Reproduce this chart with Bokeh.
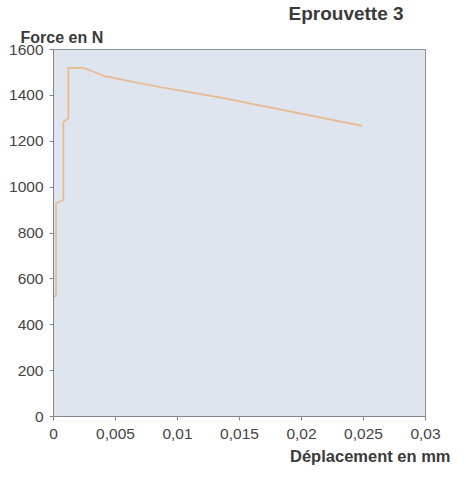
from bokeh.plotting import figure
from bokeh.models import Range1d, FixedTicker, Title
from bokeh.embed import file_html
from bokeh.resources import INLINE

# Data
deplacement_mm = [0.0, 0.0002, 0.0002, 0.0008, 0.0008, 0.0012, 0.0012, 0.0024, 0.0041, 0.0080, 0.0136, 0.0249]
force_n = [525, 525, 930, 945, 1285, 1300, 1520, 1520, 1484, 1442, 1389, 1267]

x_ticks = [0, 0.005, 0.01, 0.015, 0.02, 0.025, 0.03]
x_tick_labels = ["0", "0,005", "0,01", "0,015", "0,02", "0,025", "0,03"]
y_ticks = [0, 200, 400, 600, 800, 1000, 1200, 1400, 1600]

title_text = "Eprouvette 3"
y_title = "Force en N"
x_title = "Déplacement en mm"

FONT = "Liberation Sans"

p = figure(width=450, height=465, output_backend="svg", toolbar_location=None,
           x_range=Range1d(0, 0.03), y_range=Range1d(0, 1600),
           min_border_left=53, min_border_right=25, min_border_top=0, min_border_bottom=0)
p.frame_width = 372
p.frame_height = 367

p.background_fill_color = "#dfe5ef"
p.border_fill_color = "white"
p.outline_line_color = "#8c9099"
p.xgrid.visible = False
p.ygrid.visible = False

p.line(deplacement_mm, force_n, line_color="#e9b78c", line_width=1.6)

for ax in (p.xaxis[0], p.yaxis[0]):
    ax.axis_line_color = "#7f8590"
    ax.major_tick_line_color = "#7f8590"
    ax.major_tick_out = 4
    ax.major_tick_in = 0
    ax.minor_tick_out = 0
    ax.minor_tick_in = 0
    ax.major_label_text_font = FONT
    ax.major_label_text_font_size = "15.5px"
    ax.major_label_text_color = "#444444"

p.xaxis.ticker = FixedTicker(ticks=x_ticks)
p.xaxis.major_label_overrides = dict(zip(x_ticks, x_tick_labels))
p.xaxis.major_label_standoff = 8
p.yaxis.ticker = FixedTicker(ticks=y_ticks)
p.yaxis.major_label_standoff = 6

common = dict(text_font=FONT, text_font_style="bold", text_color="#3a3a3a")
p.add_layout(Title(text=y_title, align="left", offset=-33, text_font_size="16px",
                   standoff=7, **common), "above")
p.add_layout(Title(text=title_text, align="left", offset=235, text_font_size="19px",
                   standoff=0, **common), "above")
p.add_layout(Title(text=x_title, align="right", offset=-25, text_font_size="16.5px",
                   standoff=6, **common), "below")

open("out.html", "w").write(file_html(p, INLINE))
